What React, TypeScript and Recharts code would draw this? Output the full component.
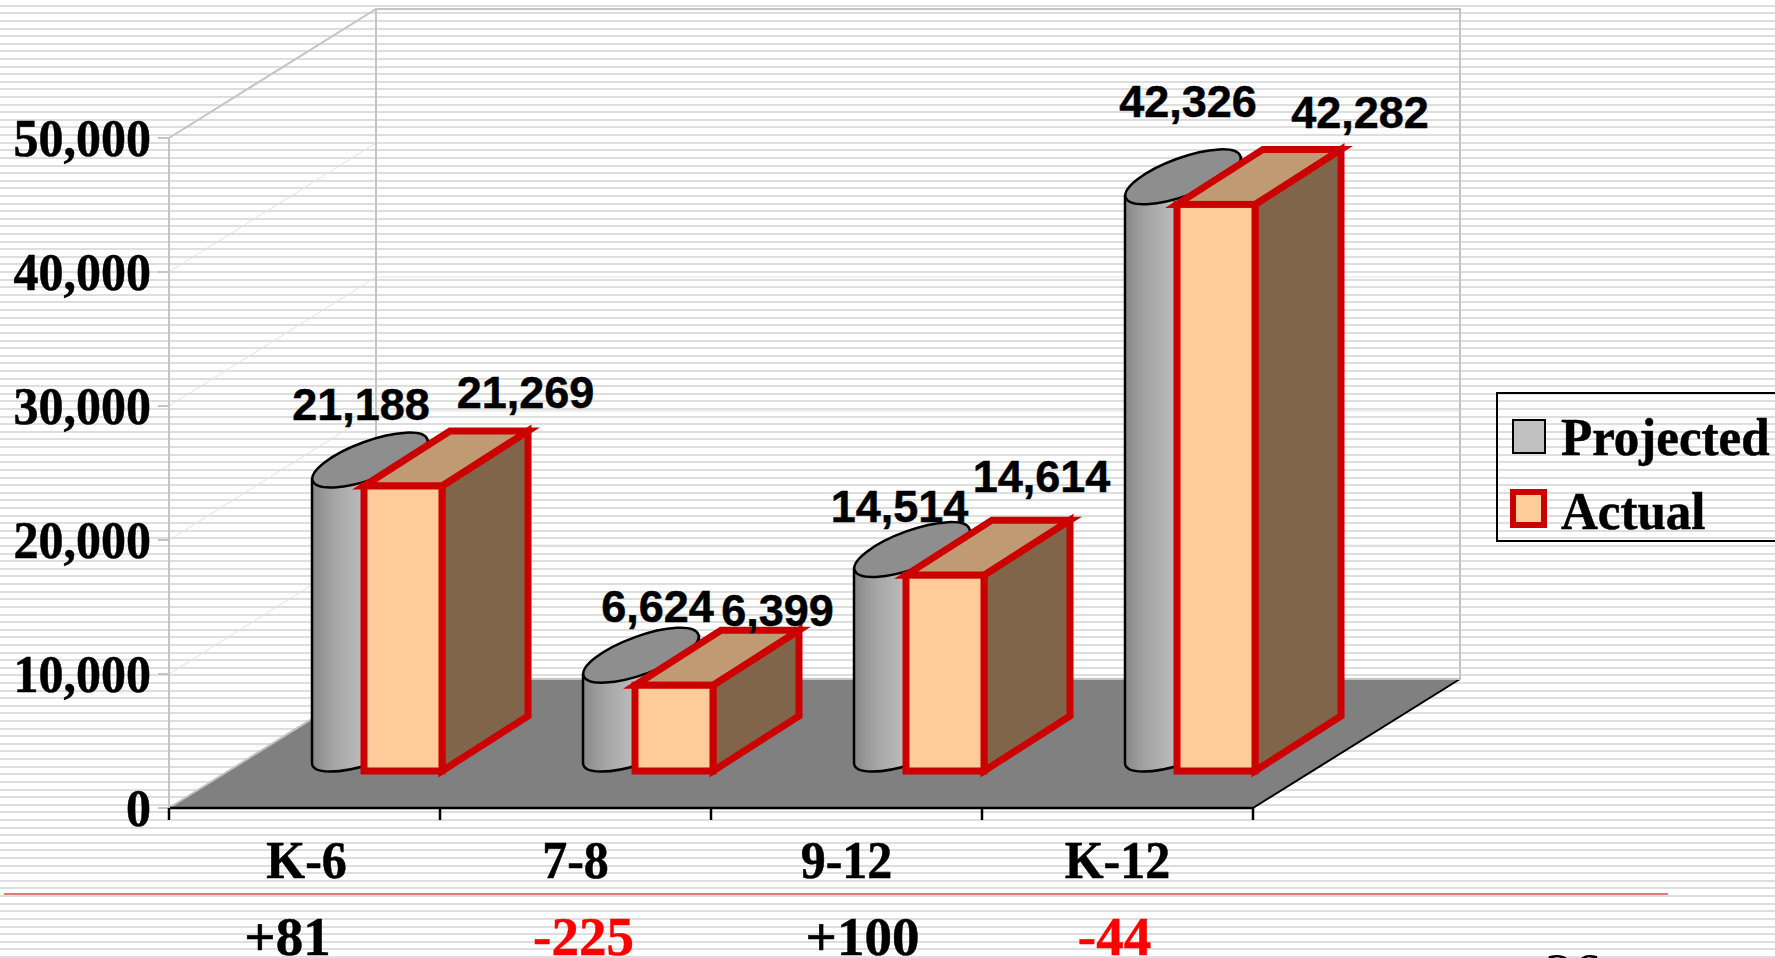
import { Bar, BarChart, CartesianGrid, LabelList, Legend, XAxis, YAxis } from 'recharts';

const grades = ['K-6', '7-8', '9-12', 'K-12'];
const projected = [21188, 6624, 14514, 42326];
const actual = [21269, 6399, 14614, 42282];
const yTicks = [0, 10000, 20000, 30000, 40000, 50000];

const rows = grades.map((grade, i) => ({ grade, projected: projected[i], actual: actual[i] }));

const WIDTH = 1775;
const HEIGHT = 958;
const PLOT = { left: 169, right: 1253, top: 138, bottom: 808 };
const BAND = (PLOT.right - PLOT.left) / grades.length;

// oblique projection of the chart box
const WALL_DX = 207;
const WALL_DY = 129;
// where the bars stand on the floor, relative to the front edge
const FLOOR_DX = 72;
const FLOOR_DY = 37;
const BOX_DX = 86;
const BOX_DY = 55;

const SERIF = '"Liberation Serif", serif';
const SANS = '"Liberation Sans", sans-serif';
const RED = '#cc0000';

// hand placed data labels, relative to the bar centre and top
const projectedNudge = [[82, -104], [107.5, -97], [78.5, -91.5], [96, -124]];
const actualNudge = [[194.5, -115], [175.5, -96.3], [168.5, -120.2], [216, -113.4]];
// the rows under the axis don't sit on the band centres
const labelNudge = [2, 0, 0, 0];
const changeNudge = [-17, 8, 16, -3];

const fmt = (n: number) => n.toLocaleString('en-US');
const signed = (n: number) => (n > 0 ? `+${n}` : `${n}`);

// serif text in the deck is slightly taller than its width would suggest
function TallText({ x, y, anchor = 'middle', fill = '#000', size = 50, stretch = 1.07, children }: any) {
  return (
    <text
      transform={`translate(${x} ${y}) scale(1 ${stretch})`}
      textAnchor={anchor}
      fontFamily={SERIF}
      fontWeight="bold"
      fontSize={size}
      fill={fill}
      stroke={fill}
      strokeWidth={0.5}
    >
      {children}
    </text>
  );
}

function ValueTick({ x, y, payload }: any) {
  return (
    <TallText x={x} y={y + 18} anchor="end">
      {fmt(payload.value)}
    </TallText>
  );
}

function GradeTick({ x, y, payload, index }: any) {
  const change = actual[index] - projected[index];
  return (
    <g>
      <line x1={x - BAND / 2} x2={x - BAND / 2} y1={y} y2={y + 12} stroke="#000" strokeWidth={2.5} />
      {index === grades.length - 1 && (
        <line x1={x + BAND / 2} x2={x + BAND / 2} y1={y} y2={y + 12} stroke="#000" strokeWidth={2.5} />
      )}
      <TallText x={x + labelNudge[index]} y={y + 70}>
        {payload.value}
      </TallText>
      <TallText x={x + changeNudge[index]} y={y + 147} size={55} stretch={0.98} fill={change < 0 ? '#ff0000' : '#000'}>
        {signed(change)}
      </TallText>
    </g>
  );
}

function Cylinder({ x, y, height }: any) {
  const left = x + FLOOR_DX;
  const top = y - FLOOR_DY;
  const base = y + height - FLOOR_DY;
  const right = left + 116;
  return (
    <g stroke="#000" strokeWidth={2.5}>
      <path
        d={`M${left} ${top - 8} L${left} ${base - 8} A61 19 -20 0 0 ${right} ${base - 46} L${right} ${top - 46} Z`}
        fill="url(#cylinderShade)"
      />
      <ellipse
        cx={left + 58}
        cy={top - 27}
        rx={61}
        ry={19}
        transform={`rotate(-20 ${left + 58} ${top - 27})`}
        fill="#8e8e8e"
      />
    </g>
  );
}

function Box({ x, y, width, height }: any) {
  const left = x + FLOOR_DX;
  const right = left + width;
  const top = y - FLOOR_DY;
  const base = y + height - FLOOR_DY;
  return (
    <g stroke={RED} strokeWidth={7} strokeLinejoin="miter" strokeMiterlimit={6}>
      <polygon
        points={`${right},${top} ${right + BOX_DX},${top - BOX_DY} ${right + BOX_DX},${base - BOX_DY} ${right},${base}`}
        fill="#80654a"
      />
      <polygon
        points={`${left},${top} ${left + BOX_DX},${top - BOX_DY} ${right + BOX_DX},${top - BOX_DY} ${right},${top}`}
        fill="#c09a72"
      />
      <rect x={left} y={top} width={width} height={height} fill="#ffcc99" />
    </g>
  );
}

function BarLabel({ x, y, width, value, index, nudge }: any) {
  return (
    <text
      x={x + width / 2 + nudge[index][0]}
      y={y + nudge[index][1]}
      textAnchor="middle"
      fontFamily={SANS}
      fontWeight="bold"
      fontSize={45}
      fill="#000"
      stroke="#000"
      strokeWidth={0.5}
    >
      {fmt(value)}
    </text>
  );
}

// faint gridline running up the side wall and along the back wall
function WallLine({ x1, y1 }: any) {
  if (y1 <= PLOT.top || y1 >= PLOT.bottom) return <g />;
  const backY = y1 - WALL_DY;
  return (
    <path
      d={`M${x1} ${y1} L${x1 + WALL_DX} ${backY} L${PLOT.right + WALL_DX} ${backY}`}
      fill="none"
      stroke="#e2e2e2"
      strokeWidth={1}
    />
  );
}

function LegendBox({ payload }: any) {
  const nameOf = (key: string) => (payload ?? []).find((p: any) => p.dataKey === key)?.value;
  return (
    <svg width={300} height={150} style={{ display: 'block' }}>
      <rect x={1} y={1} width={320} height={148} fill="none" stroke="#000" strokeWidth={2} />
      <rect x={17} y={28} width={32} height={33} fill="#c0c0c0" stroke="#000" strokeWidth={2} />
      <rect x={17} y={100} width={31} height={33} fill="#ffcc99" stroke={RED} strokeWidth={6} />
      <TallText x={65} y={63} size={51} stretch={1.05} anchor="start">{nameOf('projected')}</TallText>
      <TallText x={65} y={137} size={51} stretch={1.05} anchor="start">{nameOf('actual')}</TallText>
    </svg>
  );
}

export default function App() {
  const { left, right, top, bottom } = PLOT;
  const backLeft = left + WALL_DX;
  const backRight = right + WALL_DX;
  const backTop = top - WALL_DY;
  const backBottom = bottom - WALL_DY;
  return (
    <div
      style={{
        position: 'fixed',
        left: 0,
        top: 0,
        width: WIDTH,
        height: HEIGHT,
        overflow: 'hidden',
        backgroundImage:
          'repeating-linear-gradient(180deg, #fff 0, #fff 4.7px, #dedede 4.7px, #dedede 6.7px, #fff 6.7px, #fff 7.61px)',
      }}
    >
      <BarChart
        width={WIDTH}
        height={HEIGHT}
        data={rows}
        barSize={78}
        barGap={-26}
        margin={{ top, right: WIDTH - right, bottom: HEIGHT - bottom - 60, left: 0 }}
      >
        <defs>
          <linearGradient id="cylinderShade" x1="0" y1="0" x2="1" y2="0">
            <stop offset="0%" stopColor="#868686" />
            <stop offset="10%" stopColor="#989898" />
            <stop offset="20%" stopColor="#a6a6a6" />
            <stop offset="30%" stopColor="#afafaf" />
            <stop offset="46%" stopColor="#bebebe" />
            <stop offset="100%" stopColor="#c8c8c8" />
          </linearGradient>
        </defs>

        {/* floor */}
        <polygon
          points={`${left},${bottom} ${right},${bottom} ${backRight},${backBottom} ${backLeft},${backBottom}`}
          fill="#808080"
        />
        <line x1={left} y1={bottom} x2={backLeft} y2={backBottom} stroke="#c0c0c0" strokeWidth={2} />
        <line x1={right} y1={bottom} x2={backRight} y2={backBottom} stroke="#000" strokeWidth={2} />

        {/* side and back wall outline */}
        <path
          d={`M${left} ${top} L${backLeft} ${backTop} M${backLeft} ${backBottom} L${backLeft} ${backTop} L${backRight} ${backTop} L${backRight} ${backBottom} L${backLeft} ${backBottom}`}
          fill="none"
          stroke="#c4c4c4"
          strokeWidth={2}
        />

        <CartesianGrid vertical={false} horizontal={(props: any) => <WallLine key={props.y1} {...props} />} />

        <XAxis
          dataKey="grade"
          height={60}
          axisLine={{ stroke: '#000', strokeWidth: 2.5 }}
          tickLine={false}
          tickSize={0}
          tickMargin={0}
          interval={0}
          tick={<GradeTick />}
        />
        <YAxis
          width={left}
          domain={[0, 50000]}
          ticks={yTicks}
          interval={0}
          axisLine={{ stroke: '#c4c4c4', strokeWidth: 2 }}
          tickLine={{ stroke: '#c4c4c4', strokeWidth: 2 }}
          tickSize={11}
          tickMargin={7}
          tick={<ValueTick />}
        />

        <Legend
          layout="horizontal"
          align="center"
          verticalAlign="middle"
          content={<LegendBox />}
          wrapperStyle={{ left: 1496, top: 392, width: 300, height: 150, bottom: 'auto', right: 'auto' }}
        />

        <Bar dataKey="projected" name="Projected" isAnimationActive={false} shape={<Cylinder />}>
          <LabelList dataKey="projected" content={<BarLabel nudge={projectedNudge} />} />
        </Bar>
        <Bar dataKey="actual" name="Actual" isAnimationActive={false} shape={<Box />}>
          <LabelList dataKey="actual" content={<BarLabel nudge={actualNudge} />} />
        </Bar>

        {/* rule under the category row and the slide number running off the page */}
        <line x1={4} x2={1668} y1={894} y2={894} stroke="#e57b7b" strokeWidth={2} />
        <text x={1545} y={993} fontFamily={SERIF} fontSize={56} fill="#000">
          26
        </text>
      </BarChart>
    </div>
  );
}
